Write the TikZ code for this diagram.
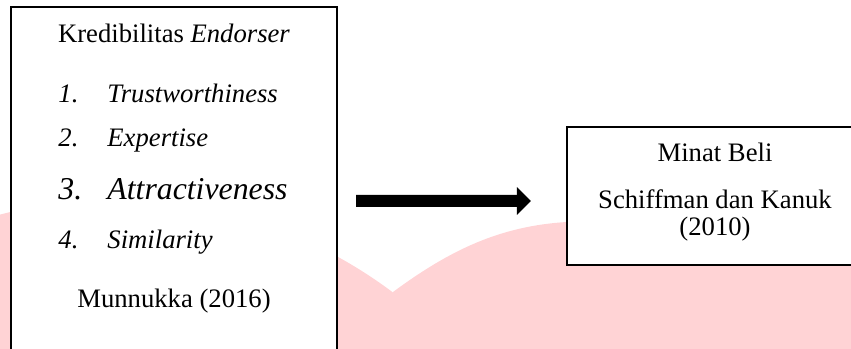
\documentclass[tikz,border=0pt]{standalone}
\usepackage{fontspec}
\setmainfont{Liberation Serif}
\usetikzlibrary{arrows.meta}
\definecolor{merahmuda}{RGB}{255,211,213}
\tikzset{
 kotak/.style={draw=black, line width=1pt, fill=white, rectangle, inner sep=0pt},
 teks/.style={inner sep=0pt, font=\fontsize{12}{14}\selectfont},
 teksbesar/.style={inner sep=0pt, font=\fontsize{14.3}{17}\selectfont},
 panah/.style={line width=5.4pt, -{Triangle[length=6.3pt,width=12.2pt]}}
}
\begin{document}
\begin{tikzpicture}[x=0.45pt,y=-0.45pt]
 \clip (0,0) rectangle (851,349);
 \fill[merahmuda] (115.6,662) circle[radius=207.9pt];
 \fill[merahmuda] (393,292) .. controls (450,250) and (500,226) .. (567,222) -- (851,222) -- (851,349) -- (393,349) -- cycle;
 \node[kotak, minimum width=146.7pt, minimum height=158.9pt] (kredibilitas) at (174,183.5) {};
 \node[kotak, minimum width=133.2pt, minimum height=62.1pt] (minat) at (715,196) {};
 \node[teks, anchor=base] (judul) at (174,43) {Kredibilitas \textit{Endorser}};
 \node[teks, anchor=base west] (no1) at (58,103) {\textit{1.}};
 \node[teks, anchor=base west] (dimensi1) at (107,103) {\textit{Trustworthiness}};
 \node[teks, anchor=base west] (no2) at (58,147) {\textit{2.}};
 \node[teks, anchor=base west] (dimensi2) at (107,147) {\textit{Expertise}};
 \node[teksbesar, anchor=base west] (no3) at (58,200) {\textit{3.}};
 \node[teksbesar, anchor=base west] (dimensi3) at (107,200) {\textit{Attractiveness}};
 \node[teks, anchor=base west] (no4) at (58,249) {\textit{4.}};
 \node[teks, anchor=base west] (dimensi4) at (107,249) {\textit{Similarity}};
 \node[teks, anchor=base] (sumber1) at (174,308) {Munnukka (2016)};
 \node[teks, anchor=base] (minatbeli) at (715,162) {Minat Beli};
 \node[teks, anchor=base] (sumber2a) at (715,209) {Schiffman dan Kanuk};
 \node[teks, anchor=base] (sumber2b) at (715,236) {(2010)};
 \path (kredibilitas.east) ++(18,17.5) coordinate (pangkal);
 \path (minat.west) ++(-35,5) coordinate (ujung);
 \draw[panah] (pangkal) -- (ujung);
\end{tikzpicture}
\end{document}
